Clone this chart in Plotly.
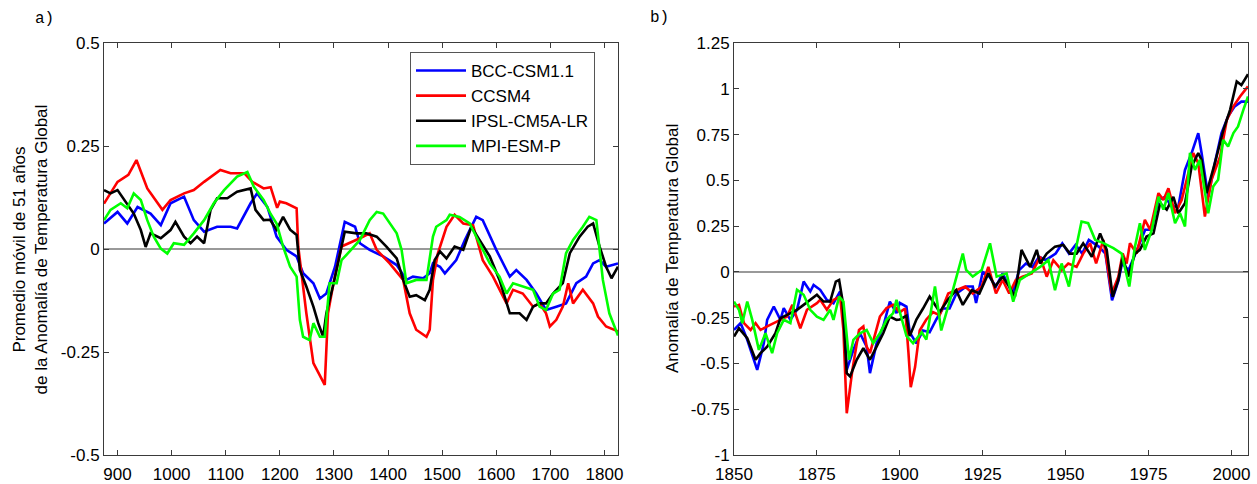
import plotly.graph_objects as go

# ---------------- Panel a) : 51-year moving average (875-1825) ----------------
a_blue_x = [875, 900, 918, 937, 961, 980, 998, 1023, 1041, 1060, 1084, 1109, 1121, 1146, 1158, 1177, 1187, 1194,
            1212, 1231, 1243, 1262, 1274, 1286, 1302, 1320, 1339, 1348, 1366, 1391, 1416, 1434, 1446, 1465,
            1477, 1483, 1496, 1505, 1526, 1542, 1563, 1575, 1600, 1625, 1637, 1656, 1674, 1692, 1711, 1729,
            1748, 1766, 1779, 1791, 1803, 1825]
a_blue_y = [0.062, 0.09, 0.062, 0.102, 0.086, 0.058, 0.111, 0.127, 0.07, 0.042, 0.054, 0.054, 0.05, 0.111, 0.135,
            0.102, 0.06, 0.03, -0.002, -0.018, -0.059, -0.083, -0.12, -0.108, -0.043, 0.066, 0.054, 0.014,
            -0.002, -0.018, -0.039, -0.075, -0.067, -0.071, -0.059, -0.035, -0.043, -0.059, -0.027, 0.022,
            0.078, 0.07, -0.002, -0.067, -0.051, -0.075, -0.108, -0.148, -0.14, -0.132, -0.083, -0.067,
            -0.035, -0.027, -0.043, -0.035]

a_red_x = [875, 900, 920, 935, 955, 983, 998, 1023, 1041, 1060, 1090, 1109, 1134, 1149, 1170, 1183, 1195, 1200,
           1212, 1231, 1234, 1249, 1262, 1280, 1283, 1289, 1298, 1314, 1329, 1348, 1366, 1379, 1403, 1428,
           1440, 1452, 1471, 1477, 1483, 1492, 1508, 1523, 1539, 1557, 1575, 1594, 1619, 1631, 1649, 1668,
           1680, 1692, 1699, 1711, 1723, 1733, 1742, 1760, 1779, 1788, 1803, 1825]
a_red_y = [0.11, 0.163, 0.18, 0.216, 0.147, 0.095, 0.119, 0.135, 0.143, 0.163, 0.192, 0.184, 0.184, 0.163, 0.147,
           0.15, 0.10, 0.115, 0.111, 0.099, 0.006, -0.156, -0.277, -0.326, -0.33, -0.156, -0.091, 0.006,
           0.014, 0.026, 0.038, -0.002, -0.035, -0.075, -0.156, -0.196, -0.213, -0.196, -0.075, -0.011,
           0.054, 0.083, 0.062, 0.058, -0.027, -0.067, -0.132, -0.099, -0.108, -0.14, -0.132, -0.156,
           -0.188, -0.172, -0.14, -0.083, -0.132, -0.099, -0.132, -0.164, -0.188, -0.2]

a_black_x = [875, 887, 900, 912, 930, 943, 952, 961, 980, 998, 1007, 1023, 1035, 1047, 1060, 1072, 1084, 1103,
             1121, 1146, 1155, 1170, 1182, 1194, 1206, 1219, 1231, 1237, 1249, 1262, 1271, 1280, 1286, 1298,
             1311, 1320, 1342, 1360, 1379, 1397, 1416, 1428, 1440, 1452, 1468, 1477, 1486, 1496, 1508, 1523,
             1539, 1554, 1569, 1588, 1606, 1625, 1643, 1656, 1668, 1680, 1692, 1705, 1723, 1736, 1754, 1769,
             1779, 1791, 1803, 1813, 1825]
a_black_y = [0.143, 0.135, 0.143, 0.119, 0.086, 0.046, 0.005, 0.038, 0.026, 0.046, 0.066, 0.03, 0.014, 0.03,
             0.014, 0.095, 0.123, 0.123, 0.139, 0.147, 0.095, 0.07, 0.071, 0.047, 0.078, 0.047, 0.034, -0.051,
             -0.091, -0.14, -0.18, -0.213, -0.156, -0.091, -0.01, 0.042, 0.038, 0.038, 0.03, 0.006, -0.023,
             -0.075, -0.116, -0.112, -0.124, -0.099, -0.027, -0.006, -0.023, 0.006, -0.002, 0.054, 0.022,
             -0.018, -0.075, -0.156, -0.156, -0.172, -0.14, -0.132, -0.132, -0.108, -0.083, -0.01, 0.03,
             0.054, 0.062, 0.006, -0.043, -0.071, -0.043]

a_green_x = [875, 887, 906, 918, 930, 943, 955, 967, 980, 992, 1004, 1023, 1041, 1060, 1078, 1097, 1121, 1140,
             1152, 1170, 1183, 1194, 1206, 1219, 1231, 1237, 1243, 1255, 1262, 1274, 1283, 1292, 1305, 1314,
             1329, 1348, 1366, 1379, 1391, 1403, 1416, 1425, 1434, 1452, 1471, 1483, 1489, 1508, 1514, 1532,
             1551, 1569, 1588, 1606, 1619, 1631, 1649, 1668, 1680, 1692, 1705, 1717, 1729, 1742, 1760, 1772,
             1785, 1791, 1797, 1809, 1825]
a_green_y = [0.07, 0.095, 0.111, 0.099, 0.135, 0.119, 0.07, 0.03, 0.001, -0.011, 0.014, 0.01, 0.038, 0.07,
             0.111, 0.143, 0.176, 0.187, 0.151, 0.119, 0.085, 0.062, 0.006, -0.043, -0.067, -0.172, -0.213,
             -0.221, -0.18, -0.213, -0.213, -0.083, -0.083, -0.027, -0.006, 0.022, 0.07, 0.09, 0.086, 0.062,
             0.038, -0.002, -0.083, -0.075, -0.075, 0.03, 0.054, 0.07, 0.083, 0.078, 0.062, 0.014, -0.035,
             -0.067, -0.108, -0.083, -0.091, -0.099, -0.14, -0.148, -0.108, -0.099, -0.01, 0.022, 0.054,
             0.078, 0.07, -0.01, -0.075, -0.156, -0.21]

# ---------------- Panel b) : annual anomaly (1850-2005) ----------------
b_blue_x = [1850, 1852, 1854, 1857, 1859, 1860, 1862, 1864, 1865, 1867, 1869, 1871, 1873, 1874, 1876, 1878, 1880,
            1882, 1883, 1884, 1886, 1888, 1890, 1891, 1893, 1895, 1897, 1899, 1900, 1902, 1903, 1905, 1907,
            1909, 1911, 1913, 1915, 1917, 1920, 1922, 1923, 1925, 1927, 1929, 1931, 1934, 1936, 1938, 1940,
            1942, 1944, 1947, 1949, 1951, 1953, 1955, 1957, 1960, 1962, 1964, 1966, 1967, 1969, 1971, 1974,
            1976, 1978, 1980, 1982, 1984, 1986, 1988, 1990, 1991, 1993, 1995, 1997, 1999, 2001, 2003, 2005]
b_blue_y = [-0.317, -0.28, -0.371, -0.535, -0.389, -0.262, -0.189, -0.262, -0.198, -0.262, -0.207, -0.053,
            -0.107, -0.071, -0.098, -0.153, -0.171, -0.107, -0.189, -0.535, -0.426, -0.335, -0.408, -0.553,
            -0.389, -0.298, -0.162, -0.225, -0.17, -0.19, -0.33, -0.39, -0.32, -0.33, -0.26, -0.2, -0.2,
            -0.12, -0.08, -0.08, -0.17, 0.0, -0.026, -0.08, -0.008, -0.118, 0.01, 0.046, 0.027, 0.083, 0.064,
            0.1, 0.156, 0.1, 0.147, 0.1, 0.175, 0.138, 0.1, -0.155, -0.044, 0.046, 0.01, 0.1, 0.23, 0.23,
            0.393, 0.41, 0.357, 0.357, 0.557, 0.649, 0.758, 0.649, 0.41, 0.594, 0.758, 0.85, 0.904, 0.93, 0.93]

b_red_x = [1850, 1851.5, 1853, 1855, 1856.5, 1858, 1860, 1863, 1866, 1867.6, 1870, 1872, 1875, 1876, 1878, 1880,
           1882, 1883, 1884, 1885.7, 1887.7, 1889, 1890, 1891, 1894, 1896, 1898, 1900, 1901.6, 1902.6, 1903.3,
           1904.6, 1906, 1908, 1910, 1912, 1914.6, 1917, 1919.7, 1922, 1924.7, 1926.7, 1929, 1931, 1933,
           1935, 1937, 1939.8, 1942.3, 1944.3, 1946.3, 1948.8, 1950.8, 1953.3, 1955.3, 1957.4, 1959.2,
           1961.4, 1963.9, 1965.9, 1967.2, 1968.4, 1969.4, 1971.4, 1973.9, 1975.5, 1978, 1979.5, 1981, 1983,
           1985, 1987, 1988.5, 1990, 1992, 1994, 1996.6, 1998.6, 2000.6, 2002.6, 2005]
b_red_y = [-0.189, -0.18, -0.28, -0.317, -0.28, -0.317, -0.298, -0.271, -0.244, -0.18, -0.308, -0.207, -0.171,
           -0.153, -0.207, -0.153, -0.135, -0.317, -0.772, -0.535, -0.317, -0.298, -0.408, -0.444, -0.244,
           -0.198, -0.18, -0.22, -0.2, -0.44, -0.63, -0.52, -0.32, -0.26, -0.22, -0.237, -0.118, -0.1,
           -0.08, -0.118, -0.08, 0.027, -0.118, -0.044, -0.118, -0.044, -0.026, -0.008, 0.083, -0.026,
           0.064, 0.01, 0.046, 0.027, 0.1, 0.156, 0.046, 0.175, -0.118, -0.026, 0.1, 0.046, 0.156, 0.1,
           0.284, 0.23, 0.43, 0.393, 0.457, 0.32, 0.393, 0.539, 0.649, 0.594, 0.302, 0.503, 0.63, 0.83,
           0.904, 0.958, 1.013]

b_black_x = [1850, 1851.5, 1854, 1856.5, 1858, 1860, 1862.5, 1864, 1866, 1869, 1871, 1873, 1875, 1877, 1879,
             1880.7, 1881.7, 1882.7, 1884, 1885, 1887, 1889, 1891, 1893, 1895, 1897, 1899, 1900, 1902, 1903,
             1905, 1907, 1909, 1911, 1912, 1914.6, 1917, 1919, 1921.7, 1924, 1926.7, 1928.7, 1931, 1933,
             1934.7, 1936.7, 1939.3, 1941.3, 1942.3, 1944.3, 1946.8, 1949.3, 1951.3, 1953.3, 1955.3, 1957.9,
             1960.4, 1962.4, 1964.2, 1965.9, 1967.2, 1968.9, 1970.9, 1972.4, 1974.4, 1976.5, 1978.5, 1980.5,
             1982.5, 1984, 1986, 1988, 1990, 1991, 1992.5, 1995, 1997.6, 1999.6, 2001.6, 2003, 2005]
b_black_y = [-0.353, -0.308, -0.362, -0.48, -0.444, -0.408, -0.335, -0.253, -0.235, -0.207, -0.18, -0.153,
             -0.125, -0.162, -0.162, -0.053, -0.044, -0.153, -0.553, -0.571, -0.48, -0.417, -0.48, -0.408,
             -0.335, -0.244, -0.262, -0.26, -0.24, -0.35, -0.26, -0.2, -0.135, -0.19, -0.22, -0.15, -0.1,
             -0.18, -0.1, -0.118, -0.008, -0.08, -0.026, -0.08, -0.136, 0.12, 0.027, 0.12, 0.046, 0.1, 0.138,
             0.147, 0.1, 0.1, 0.156, 0.083, 0.21, 0.12, -0.136, -0.044, 0.083, -0.026, 0.1, 0.12, 0.193,
             0.21, 0.375, 0.34, 0.41, 0.32, 0.375, 0.575, 0.649, 0.612, 0.43, 0.594, 0.776, 0.885, 1.04,
             1.02, 1.08]

b_green_x = [1850, 1851.5, 1852.5, 1854, 1855.5, 1857.5, 1859.5, 1861.5, 1863, 1865, 1867, 1869, 1871, 1873,
             1875, 1877, 1879, 1880, 1881.7, 1883, 1884.7, 1886, 1888, 1890, 1892, 1894, 1896, 1898, 1899,
             1902, 1904, 1906.6, 1908, 1910.6, 1912.5, 1914.5, 1916, 1919, 1920, 1922, 1924.7, 1927.2, 1929.2,
             1932.2, 1934.2, 1936.2, 1939.3, 1942.3, 1944.8, 1946.8, 1948.8, 1951, 1952.8, 1954.8, 1956.8,
             1958.9, 1961.4, 1964.4, 1966.9, 1969.2, 1970.9, 1972.4, 1973.9, 1976, 1978, 1979.5, 1981, 1983,
             1984.5, 1986, 1987.5, 1989, 1990.5, 1993, 1994.5, 1996, 1997.5, 1999, 2000.6, 2002, 2003.6, 2005]
b_green_y = [-0.162, -0.207, -0.28, -0.162, -0.262, -0.426, -0.335, -0.444, -0.335, -0.262, -0.28, -0.098,
             -0.125, -0.207, -0.244, -0.262, -0.207, -0.262, -0.135, -0.162, -0.48, -0.371, -0.335, -0.317,
             -0.389, -0.335, -0.262, -0.225, -0.153, -0.35, -0.39, -0.33, -0.37, -0.08, -0.32, -0.2, -0.1,
             0.1, 0.011, -0.026, 0.01, 0.156, -0.026, -0.008, -0.163, -0.044, -0.008, 0.027, 0.064, -0.1,
             0.046, -0.08, 0.1, 0.275, 0.266, 0.175, 0.157, 0.13, 0.1, -0.08, 0.138, 0.266, 0.12, 0.23, 0.41,
             0.34, 0.43, 0.266, 0.32, 0.248, 0.65, 0.557, 0.612, 0.32, 0.466, 0.503, 0.721, 0.685, 0.758,
             0.794, 0.885, 0.958]

model_names = ["BCC-CSM1.1", "CCSM4", "IPSL-CM5A-LR", "MPI-ESM-P"]
model_colors = ["#0000ff", "#ff0000", "#000000", "#00ff00"]

a_ticks = [900, 1000, 1100, 1200, 1300, 1400, 1500, 1600, 1700, 1800]
a_yticks = [-0.5, -0.25, 0, 0.25, 0.5]
a_yticktext = ["-0.5", "-0.25", "0", "0.25", "0.5"]
b_ticks = [1850, 1875, 1900, 1925, 1950, 1975, 2000]
b_yticks = [-1, -0.75, -0.5, -0.25, 0, 0.25, 0.5, 0.75, 1, 1.25]
b_yticktext = ["-1", "-0.75", "-0.5", "-0.25", "0", "0.25", "0.5", "0.75", "1", "1.25"]

W, H = 1257, 484
FONT = "Liberation Sans, Arial, sans-serif"
AXC = "#3a3a3a"

fig = go.Figure()
a_data = [(a_blue_x, a_blue_y), (a_red_x, a_red_y), (a_black_x, a_black_y), (a_green_x, a_green_y)]
b_data = [(b_blue_x, b_blue_y), (b_red_x, b_red_y), (b_black_x, b_black_y), (b_green_x, b_green_y)]
for (x, y), name, col in zip(a_data, model_names, model_colors):
    fig.add_trace(go.Scatter(x=x, y=y, mode="lines", name=name, line=dict(color=col, width=2.6),
                             xaxis="x", yaxis="y", showlegend=True))
for (x, y), name, col in zip(b_data, model_names, model_colors):
    fig.add_trace(go.Scatter(x=x, y=y, mode="lines", name=name, line=dict(color=col, width=2.6),
                             xaxis="x2", yaxis="y2", showlegend=False))

ax_common = dict(showline=True, linecolor=AXC, linewidth=1, mirror="ticks", ticks="inside", ticklen=5,
                 tickcolor=AXC, showgrid=False, automargin=False,
                 tickfont=dict(family=FONT, size=17, color="black"))

ydom = [1 - 455 / H, 1 - 43 / H]
fig.update_layout(
    template="none",
    width=W, height=H, margin=dict(l=0, r=0, t=0, b=0, pad=0),
    paper_bgcolor="white", plot_bgcolor="white",
    font=dict(family=FONT, size=17, color="black"),
    xaxis=dict(domain=[104 / W, 618 / W], range=[875, 1825], tickvals=a_ticks, zeroline=False,
               anchor="y", ticklabelstandoff=4, **ax_common),
    yaxis=dict(domain=ydom, range=[-0.5, 0.5], tickvals=a_yticks, ticktext=a_yticktext, anchor="x",
               zeroline=True, zerolinecolor="#999999", zerolinewidth=1.5, **ax_common),
    xaxis2=dict(domain=[734 / W, 1248 / W], range=[1850, 2005], tickvals=b_ticks, zeroline=False,
                anchor="y2", ticklabelstandoff=4, **ax_common),
    yaxis2=dict(domain=ydom, range=[-1, 1.25], tickvals=b_yticks, ticktext=b_yticktext, anchor="x2",
                zeroline=True, zerolinecolor="#999999", zerolinewidth=1.5, **ax_common),
    legend=dict(x=410 / W, y=1 - 52 / H, xanchor="left", yanchor="top", bgcolor="white",
                bordercolor="#555555", borderwidth=1, font=dict(family=FONT, size=17, color="black"),
                itemwidth=50, tracegroupgap=0),
    annotations=[
        dict(text="Promedio móvil de 51 años<br>de la Anomalía de Temperatura Global", x=30.5 / W, y=1 - 250 / H,
             xref="paper", yref="paper", textangle=-90, showarrow=False, xanchor="center", yanchor="middle",
             font=dict(family=FONT, size=17, color="black")),
        dict(text="Anomalía de Temperatura Global", x=672 / W, y=1 - 249 / H,
             xref="paper", yref="paper", textangle=-90, showarrow=False, xanchor="center", yanchor="middle",
             font=dict(family=FONT, size=17, color="black")),
        dict(text="a)", x=44 / W, y=1 - 19 / H, xref="paper", yref="paper", showarrow=False,
             xanchor="center", yanchor="middle", font=dict(family="Liberation Mono, monospace", size=16, color="black")),
        dict(text="b)", x=659 / W, y=1 - 18 / H, xref="paper", yref="paper", showarrow=False,
             xanchor="center", yanchor="middle", font=dict(family="Liberation Mono, monospace", size=16, color="black")),
    ],
)

fig.write_html("out.html", config={"displayModeBar": False},
               post_script="document.body.style.margin='0px';")
